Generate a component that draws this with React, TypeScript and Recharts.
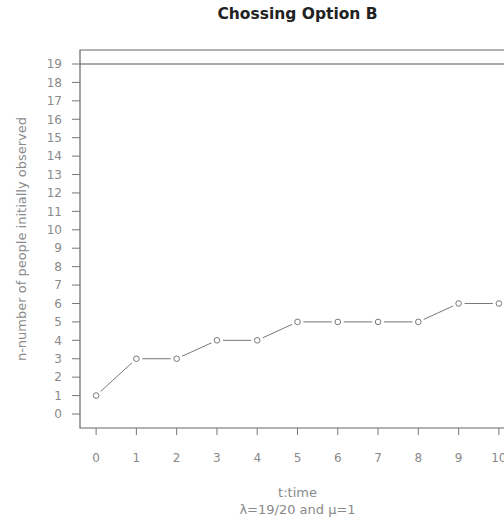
import React from "react";
import {
	LineChart,
	Line,
	XAxis,
	YAxis,
	ReferenceLine,
	ReferenceArea,
	Label,
} from "recharts";

const times = [0, 1, 2, 3, 4, 5, 6, 7, 8, 9, 10];
const observed = [1, 3, 3, 4, 4, 5, 5, 5, 5, 6, 6];
const yTicks = [0, 1, 2, 3, 4, 5, 6, 7, 8, 9, 10, 11, 12, 13, 14, 15, 16, 17, 18, 19];
const population = 19;

const data = times.map((t, i) => ({ t, n: observed[i] }));

const gray = "#777";
const textGray = "#8a8a8a";
const font = "'DejaVu Sans', Verdana, sans-serif";

// R type="b": open circle with a gap in the line around it
const GapDot = (props: any) => {
	const { cx, cy, index } = props;
	if (cx == null || cy == null) return null;
	return (
		<g key={`dot-${index}`}>
			<circle cx={cx} cy={cy} r={6} fill="#fff" />
			<circle cx={cx} cy={cy} r={2.8} fill="#fff" stroke={gray} strokeWidth={1} />
		</g>
	);
};

const XTitle = (props: any) => {
	const { viewBox } = props;
	const cx = viewBox.x + viewBox.width / 2;
	return (
		<g fontFamily={font} fontSize={13} fill={textGray}>
			<text x={cx} y={497} textAnchor="middle">
				t:time
			</text>
			<text x={cx} y={514} textAnchor="middle">
				λ=19/20 and μ=1
			</text>
		</g>
	);
};

export default function App() {
	return (
		<div
			style={{
				position: "absolute",
				left: 0,
				top: 0,
				width: 504,
				height: 521,
				overflow: "hidden",
				background: "#fff",
			}}>
			<div
				style={{
					position: "absolute",
					top: 5,
					left: 0,
					width: 595,
					textAlign: "center",
					fontFamily: font,
					fontWeight: "bold",
					fontSize: 15.5,
					color: "#222",
				}}>
				Chossing Option B
			</div>
			<LineChart
				width={530}
				height={521}
				data={data}
				margin={{ top: 50, right: 15, bottom: 0, left: 0 }}>
				<XAxis
					dataKey="t"
					type="number"
					domain={[-0.4, 10.4]}
					ticks={times}
					interval={0}
					height={93}
					axisLine={false}
					tickLine={{ stroke: gray }}
					tickSize={7}
					tickMargin={18}
					tick={{ fill: textGray, fontSize: 12, fontFamily: font }}>
					<Label content={<XTitle />} />
				</XAxis>
				<YAxis
					type="number"
					domain={[-0.76, 19.76]}
					ticks={yTicks}
					interval={0}
					width={80}
					axisLine={false}
					tickLine={{ stroke: gray }}
					tickSize={8}
					tickMargin={10}
					tick={{ fill: textGray, fontSize: 12, fontFamily: font }}>
					<Label
						value="n-number of people initially observed"
						angle={-90}
						position="insideLeft"
						offset={21}
						style={{
							textAnchor: "middle",
							fill: textGray,
							fontSize: 13,
							fontFamily: font,
						}}
					/>
				</YAxis>
				<ReferenceArea
					x1={-0.4}
					x2={10.4}
					y1={-0.76}
					y2={19.76}
					fill="none"
					fillOpacity={0}
					stroke="#666"
					strokeWidth={1.2}
					ifOverflow="visible"
				/>
				<ReferenceLine y={population} stroke="#555" strokeWidth={1.2} />
				<Line
					dataKey="n"
					type="linear"
					stroke={gray}
					strokeWidth={1}
					dot={<GapDot />}
					activeDot={false}
					isAnimationActive={false}
				/>
			</LineChart>
		</div>
	);
}
